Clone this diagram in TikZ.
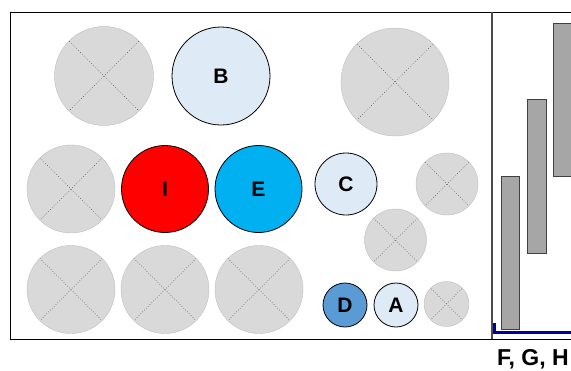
\documentclass[tikz,border=0pt]{standalone}
\usepackage{fontspec}
\setmainfont{Liberation Sans}
\usepackage{tikz}
\definecolor{spareFill}{HTML}{D9D9D9}
\definecolor{spareLine}{HTML}{BFBFBF}
\definecolor{paleBlue}{HTML}{DEEBF7}
\definecolor{midBlue}{HTML}{5B9BD5}
\definecolor{skyBlue}{HTML}{00B0F0}
\definecolor{barFill}{HTML}{A6A6A6}
\definecolor{baseBlue}{HTML}{0000A0}
\tikzstyle{spare}=[circle,fill=spareFill,draw=spareLine,inner sep=0pt,
  path picture={\draw[dotted,black!70,line width=0.6pt] (path picture bounding box.north west) -- (path picture bounding box.south east)
    (path picture bounding box.north east) -- (path picture bounding box.south west);}]
\tikzstyle{tank}=[circle,draw=black,thick,inner sep=0pt,font=\fontsize{21}{22}\selectfont\bfseries]
\tikzstyle{bar}=[draw=black!75,fill=barFill,thick]

\begin{document}
\begin{tikzpicture}[x=1pt,y=-1pt]
      \useasboundingbox (0,0) rectangle (571,370);
      \clip (0,0) rectangle (571,370);
      \draw[thick] (580,12) -- (10,12) -- (10,339) -- (580,339);
      \draw[black!70,line width=1.5pt] (492,12) -- (492,339);
      \node[spare,minimum size=99pt] (s1) at (104,76) {};
      \node[tank,fill=paleBlue,minimum size=98pt] (b) at (221,76) {B};
      \node[spare,minimum size=108pt] (s2) at (395,82) {};
      \node[spare,minimum size=88pt] (s3) at (71,189) {};
      \node[tank,fill=red,minimum size=87pt] (i) at (165,189) {I};
      \node[tank,fill=skyBlue,minimum size=87pt] (e) at (258.5,189) {E};
      \node[tank,fill=paleBlue,minimum size=62pt] (c) at (346,184) {C};
      \node[spare,minimum size=62pt] (s4) at (447,184) {};
      \node[spare,minimum size=62pt] (s5) at (395.5,240) {};
      \node[spare,minimum size=88pt] (s6) at (71,289.5) {};
      \node[spare,minimum size=88pt] (s7) at (165,289.5) {};
      \node[spare,minimum size=88pt] (s8) at (259,289.5) {};
      \node[tank,fill=midBlue,minimum size=44pt] (d) at (345,305) {D};
      \node[tank,fill=paleBlue,minimum size=44pt] (a) at (396,305) {A};
      \node[spare,minimum size=45pt] (s9) at (446.5,304) {};
      \draw[bar] (501,176) rectangle (519,329);
      \draw[bar] (527,99) rectangle (546,253);
      \draw[bar] (553,23) rectangle (571,176);
      \draw[baseBlue,line width=3pt] (494,323) -- (494,332) -- (580,332);
      \node[anchor=base west,inner sep=0pt,font=\fontsize{23}{24}\selectfont\bfseries] (fgh) at (497,365) {F, G, H};
    \end{tikzpicture}
\end{document}
